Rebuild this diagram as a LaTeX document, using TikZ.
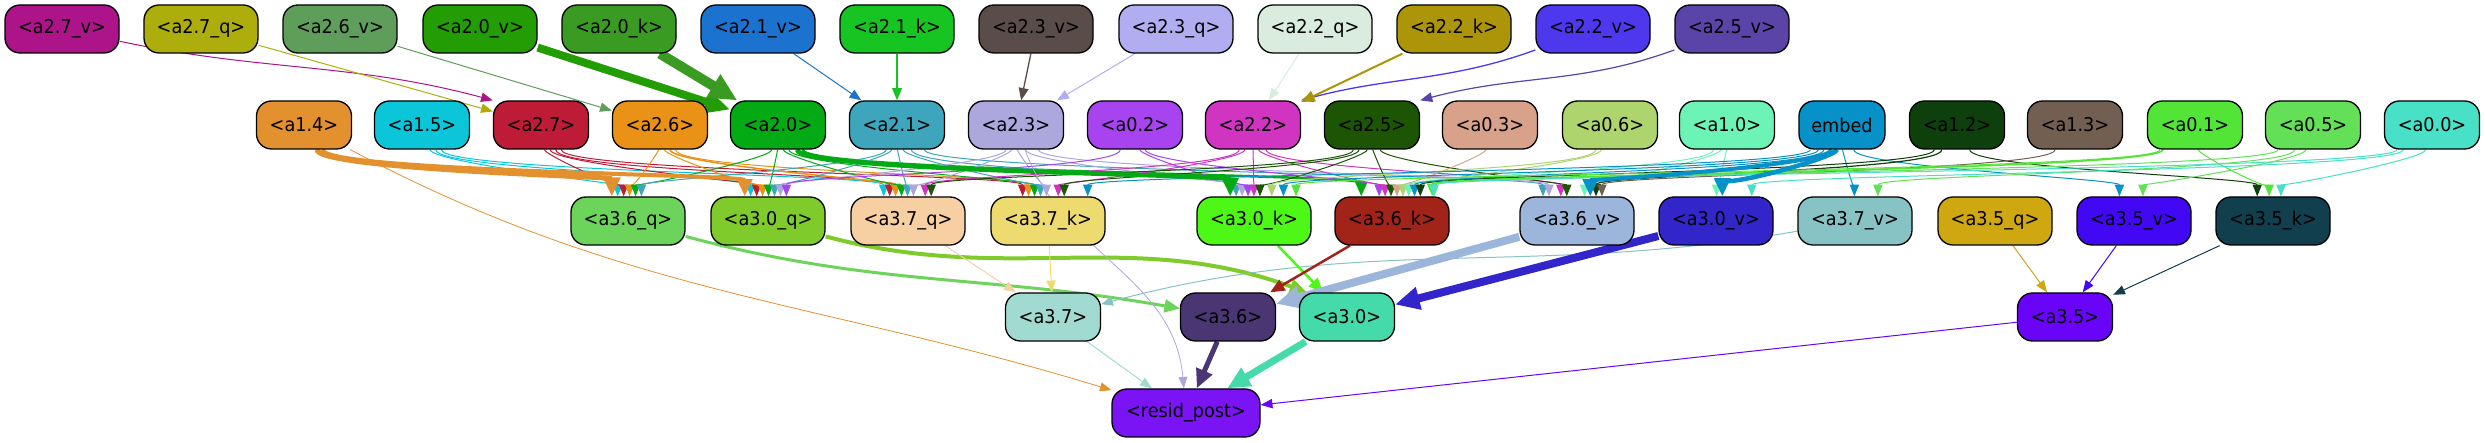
\documentclass[tikz,border=0pt]{standalone}
\usepackage{fontspec}
\setmainfont{DejaVu Sans}[FakeStretch=0.93]
\usetikzlibrary{arrows.meta,calc}
\pgfdeclarelayer{bg}
\pgfsetlayers{bg,main}
\definecolor{ct27v}{HTML}{AD1489}\definecolor{ct27q}{HTML}{ADAE0C}\definecolor{ct26v}{HTML}{5F9E5A}
\definecolor{ct20v}{HTML}{229E04}\definecolor{ct20k}{HTML}{3A9B22}\definecolor{ct21v}{HTML}{1C73CF}
\definecolor{ct21k}{HTML}{16C422}\definecolor{ct23v}{HTML}{5A4C48}\definecolor{ct23q}{HTML}{B0AEF0}
\definecolor{ct22q}{HTML}{D9ECDD}\definecolor{ct22k}{HTML}{AC9508}\definecolor{ct22v}{HTML}{4E38EE}
\definecolor{ct25v}{HTML}{5A44A8}
\definecolor{ca14}{HTML}{E3912F}\definecolor{ca15}{HTML}{0BC6D8}\definecolor{ca27}{HTML}{BE1C36}
\definecolor{ca26}{HTML}{E99215}\definecolor{ca20}{HTML}{04AA14}\definecolor{ca21}{HTML}{3DA5BC}
\definecolor{ca23}{HTML}{ACA8DE}\definecolor{ca02}{HTML}{A744F0}\definecolor{ca22}{HTML}{D034C0}
\definecolor{ca25}{HTML}{1C5604}\definecolor{ca03}{HTML}{D8A18A}\definecolor{ca06}{HTML}{AED46E}
\definecolor{ca10}{HTML}{6CF4B6}\definecolor{cemb}{HTML}{0692C8}\definecolor{ca12}{HTML}{0D400C}
\definecolor{ca13}{HTML}{735F52}\definecolor{ca01}{HTML}{52E436}\definecolor{ca05}{HTML}{63E058}
\definecolor{ca00}{HTML}{48E0C6}
\definecolor{cb36q}{HTML}{6DD45B}\definecolor{cb30q}{HTML}{7FCB2B}\definecolor{cb37q}{HTML}{F6CFA2}
\definecolor{cb37k}{HTML}{EEDB70}\definecolor{cb30k}{HTML}{4EF816}\definecolor{cb36k}{HTML}{A22318}
\definecolor{cb36v}{HTML}{9BB5DB}\definecolor{cb30v}{HTML}{3226CA}\definecolor{cb37v}{HTML}{87C3C4}
\definecolor{cb35q}{HTML}{CFA811}\definecolor{cb35v}{HTML}{4208F4}\definecolor{cb35k}{HTML}{113F4E}
\definecolor{cb37}{HTML}{A1DAD0}\definecolor{cb36}{HTML}{4A3673}\definecolor{cb30}{HTML}{45DAA9}
\definecolor{cb35}{HTML}{6A04F8}\definecolor{crp}{HTML}{7A14F4}
\tikzset{
  nb/.style={draw=black, line width=1.3pt, rounded corners=15pt, minimum width=95pt,
    minimum height=48pt, inner sep=0pt, font=\fontsize{19}{22}\selectfont, text=black},
  nw/.style={nb, minimum width=114pt},
  ed/.style 2 args={draw=#1, line width=#2pt, -{Triangle[length=10pt 1.8, width=7.5pt 1.8]}},
}
\newcommand\gedge[4]{%
  \draw[ed={#3}{#4}] let \p1=(#1), \p2=(#2),
    \n1={max(-35,min(35,(\x2-\x1)*0.04))},
    \n2={max(-42,min(42,(\x1-\x2)*0.05))},
    \n3={min(22,abs(\x2-\x1)*0.06)} in
    ([xshift=\n1]#1.south) .. controls +(0,-\n3) and +(0,\n3) .. ([xshift=\n2]#2.north);}
\begin{document}
\begin{tikzpicture}[x=1pt,y=1pt]
\useasboundingbox (0,0) rectangle (2485,-443);
% row 1
\node[nw,fill=ct27v] (t27v) at (62,-29) {<a2.7\_v>};
\node[nw,fill=ct27q] (t27q) at (201,-29) {<a2.7\_q>};
\node[nw,fill=ct26v] (t26v) at (340,-29) {<a2.6\_v>};
\node[nw,fill=ct20v] (t20v) at (480,-29) {<a2.0\_v>};
\node[nw,fill=ct20k] (t20k) at (619,-29) {<a2.0\_k>};
\node[nw,fill=ct21v] (t21v) at (758,-29) {<a2.1\_v>};
\node[nw,fill=ct21k] (t21k) at (897,-29) {<a2.1\_k>};
\node[nw,fill=ct23v] (t23v) at (1036,-29) {<a2.3\_v>};
\node[nw,fill=ct23q] (t23q) at (1176,-29) {<a2.3\_q>};
\node[nw,fill=ct22q] (t22q) at (1315,-29) {<a2.2\_q>};
\node[nw,fill=ct22k] (t22k) at (1454,-29) {<a2.2\_k>};
\node[nw,fill=ct22v] (t22v) at (1593,-29) {<a2.2\_v>};
\node[nw,fill=ct25v] (t25v) at (1732,-29) {<a2.5\_v>};
% row 2
\node[nb,fill=ca14] (a14) at (304,-125) {<a1.4>};
\node[nb,fill=ca15] (a15) at (422,-125) {<a1.5>};
\node[nb,fill=ca27] (a27) at (541,-125) {<a2.7>};
\node[nb,fill=ca26] (a26) at (660,-125) {<a2.6>};
\node[nb,fill=ca20] (a20) at (778,-125) {<a2.0>};
\node[nb,fill=ca21] (a21) at (897,-125) {<a2.1>};
\node[nb,fill=ca23] (a23) at (1016,-125) {<a2.3>};
\node[nb,fill=ca02] (a02) at (1135,-125) {<a0.2>};
\node[nb,fill=ca22] (a22) at (1253,-125) {<a2.2>};
\node[nb,fill=ca25] (a25) at (1372,-125) {<a2.5>};
\node[nb,fill=ca03] (a03) at (1490,-125) {<a0.3>};
\node[nb,fill=ca06] (a06) at (1610,-125) {<a0.6>};
\node[nb,fill=ca10] (a10) at (1727,-125) {<a1.0>};
\node[nb,fill=cemb,minimum width=86pt] (emb) at (1842,-125) {embed};
\node[nb,fill=ca12] (a12) at (1957,-125) {<a1.2>};
\node[nb,fill=ca13] (a13) at (2075,-125) {<a1.3>};
\node[nb,fill=ca01] (a01) at (2195,-125) {<a0.1>};
\node[nb,fill=ca05] (a05) at (2313,-125) {<a0.5>};
\node[nb,fill=ca00] (a00) at (2432,-125) {<a0.0>};
% row 3
\node[nw,fill=cb36q] (b36q) at (628,-221) {<a3.6\_q>};
\node[nw,fill=cb30q] (b30q) at (768,-221) {<a3.0\_q>};
\node[nw,fill=cb37q] (b37q) at (908,-221) {<a3.7\_q>};
\node[nw,fill=cb37k] (b37k) at (1048,-221) {<a3.7\_k>};
\node[nw,fill=cb30k] (b30k) at (1254,-221) {<a3.0\_k>};
\node[nw,fill=cb36k] (b36k) at (1392,-221) {<a3.6\_k>};
\node[nw,fill=cb36v] (b36v) at (1577,-221) {<a3.6\_v>};
\node[nw,fill=cb30v] (b30v) at (1716,-221) {<a3.0\_v>};
\node[nw,fill=cb37v] (b37v) at (1855,-221) {<a3.7\_v>};
\node[nw,fill=cb35q] (b35q) at (1995,-221) {<a3.5\_q>};
\node[nw,fill=cb35v] (b35v) at (2134,-221) {<a3.5\_v>};
\node[nw,fill=cb35k] (b35k) at (2273,-221) {<a3.5\_k>};
% row 4
\node[nb,fill=cb37] (b37) at (1053,-317) {<a3.7>};
\node[nb,fill=cb36] (b36) at (1228,-317) {<a3.6>};
\node[nb,fill=cb30] (b30) at (1347,-317) {<a3.0>};
\node[nb,fill=cb35] (b35) at (2065,-317) {<a3.5>};
% row 5
\node[nb,fill=crp,minimum width=148pt] (rp) at (1186,-413) {<resid\_post>};
\begin{pgfonlayer}{bg}
% row 1 -> row 2
\draw[ed={ct27v}{1}] (t27v) to[out=-12,in=165] (a27.north west);
\draw[ed={ct22v}{1.3}] (t22v) to[out=-160,in=15] (a22.north east);
\draw[ed={ct25v}{1.2}] (t25v) to[out=-160,in=15] (a25.north east);
\foreach \s/\t/\w in {t27q/a27/1, t26v/a26/1, t20v/a20/8, t20k/a20/10,
  t21v/a21/1, t21k/a21/1.2, t23v/a23/1.3, t23q/a23/1, t22q/a22/1, t22k/a22/2}
  {\draw[ed={c\s}{\w}] (\s) -- (\t);}
% row 2 -> row 3
\foreach \s/\t/\w in {a15/b36q/1, a15/b30q/1, a15/b37q/1, a27/b36q/1, a27/b30q/1,
  a27/b37q/1, a27/b37k/1, a26/b36q/1, a26/b30q/1, a26/b37q/1.5, a26/b37k/1,
  a20/b36q/1, a20/b30q/1, a20/b37q/1, a20/b37k/1, a20/b36k/2.5,
  a21/b36q/1, a21/b30q/1, a21/b37q/1, a21/b37k/1, a21/b30k/1, a21/b36v/1,
  a23/b30q/1, a23/b37q/1, a23/b37k/1, a23/b30k/1, a23/b36v/1,
  a02/b30q/1, a02/b30k/1, a02/b36k/1,
  a22/b37q/1, a22/b37k/1, a22/b30k/1, a22/b36k/1, a22/b36v/1,
  a25/b37q/1, a25/b37k/1, a25/b30k/1, a25/b36k/1, a25/b36v/1,
  a03/b36k/1, a06/b36k/1, a06/b30k/1, a10/b36v/1, a10/b30v/1, a10/b36k/1,
  emb/b37v/1, emb/b35v/1, emb/b37k/1, emb/b30k/1, emb/b36k/1,
  a12/b36v/1.2, a12/b35k/1, a12/b36k/1, a13/b36v/1,
  a01/b35k/1, a01/b36k/1.5, a01/b30k/1, a05/b35v/1, a05/b37v/1, a05/b36k/1,
  a00/b35k/1, a00/b30v/1, a00/b36k/1,
  a14/b36q/5, a14/b30q/4, a20/b30k/4.5, emb/b36v/4, emb/b30v/4.5}{\gedge{\s}{\t}{c\s}{\w}}
% row 3 -> row 4
\draw[ed={cb36q}{3}] (b36q) to[out=-15,in=170] (b36);
\draw[ed={cb30q}{4}] (b30q) to[out=-15,in=160] ([xshift=8pt]b30.north west);
\draw[ed={cb37v}{1}] (b37v) to[out=-170,in=15] (b37);
\foreach \s/\t/\w in {b37q/b37/1, b37k/b37/1, b30k/b30/2.5, b36k/b36/2.5,
  b36v/b36/8, b30v/b30/8, b35q/b35/1, b35v/b35/1, b35k/b35/1,
  b37/rp/1, b36/rp/5, b30/rp/7, b35/rp/1}{\draw[ed={c\s}{\w}] (\s) -- (\t);}
\draw[ed={ca14}{0.8}] (a14) to[out=-28,in=163] (rp);
\draw[ed={ca23}{0.8}] (a23) to[out=-70,in=95] (rp);
\end{pgfonlayer}
\end{tikzpicture}
\end{document}
